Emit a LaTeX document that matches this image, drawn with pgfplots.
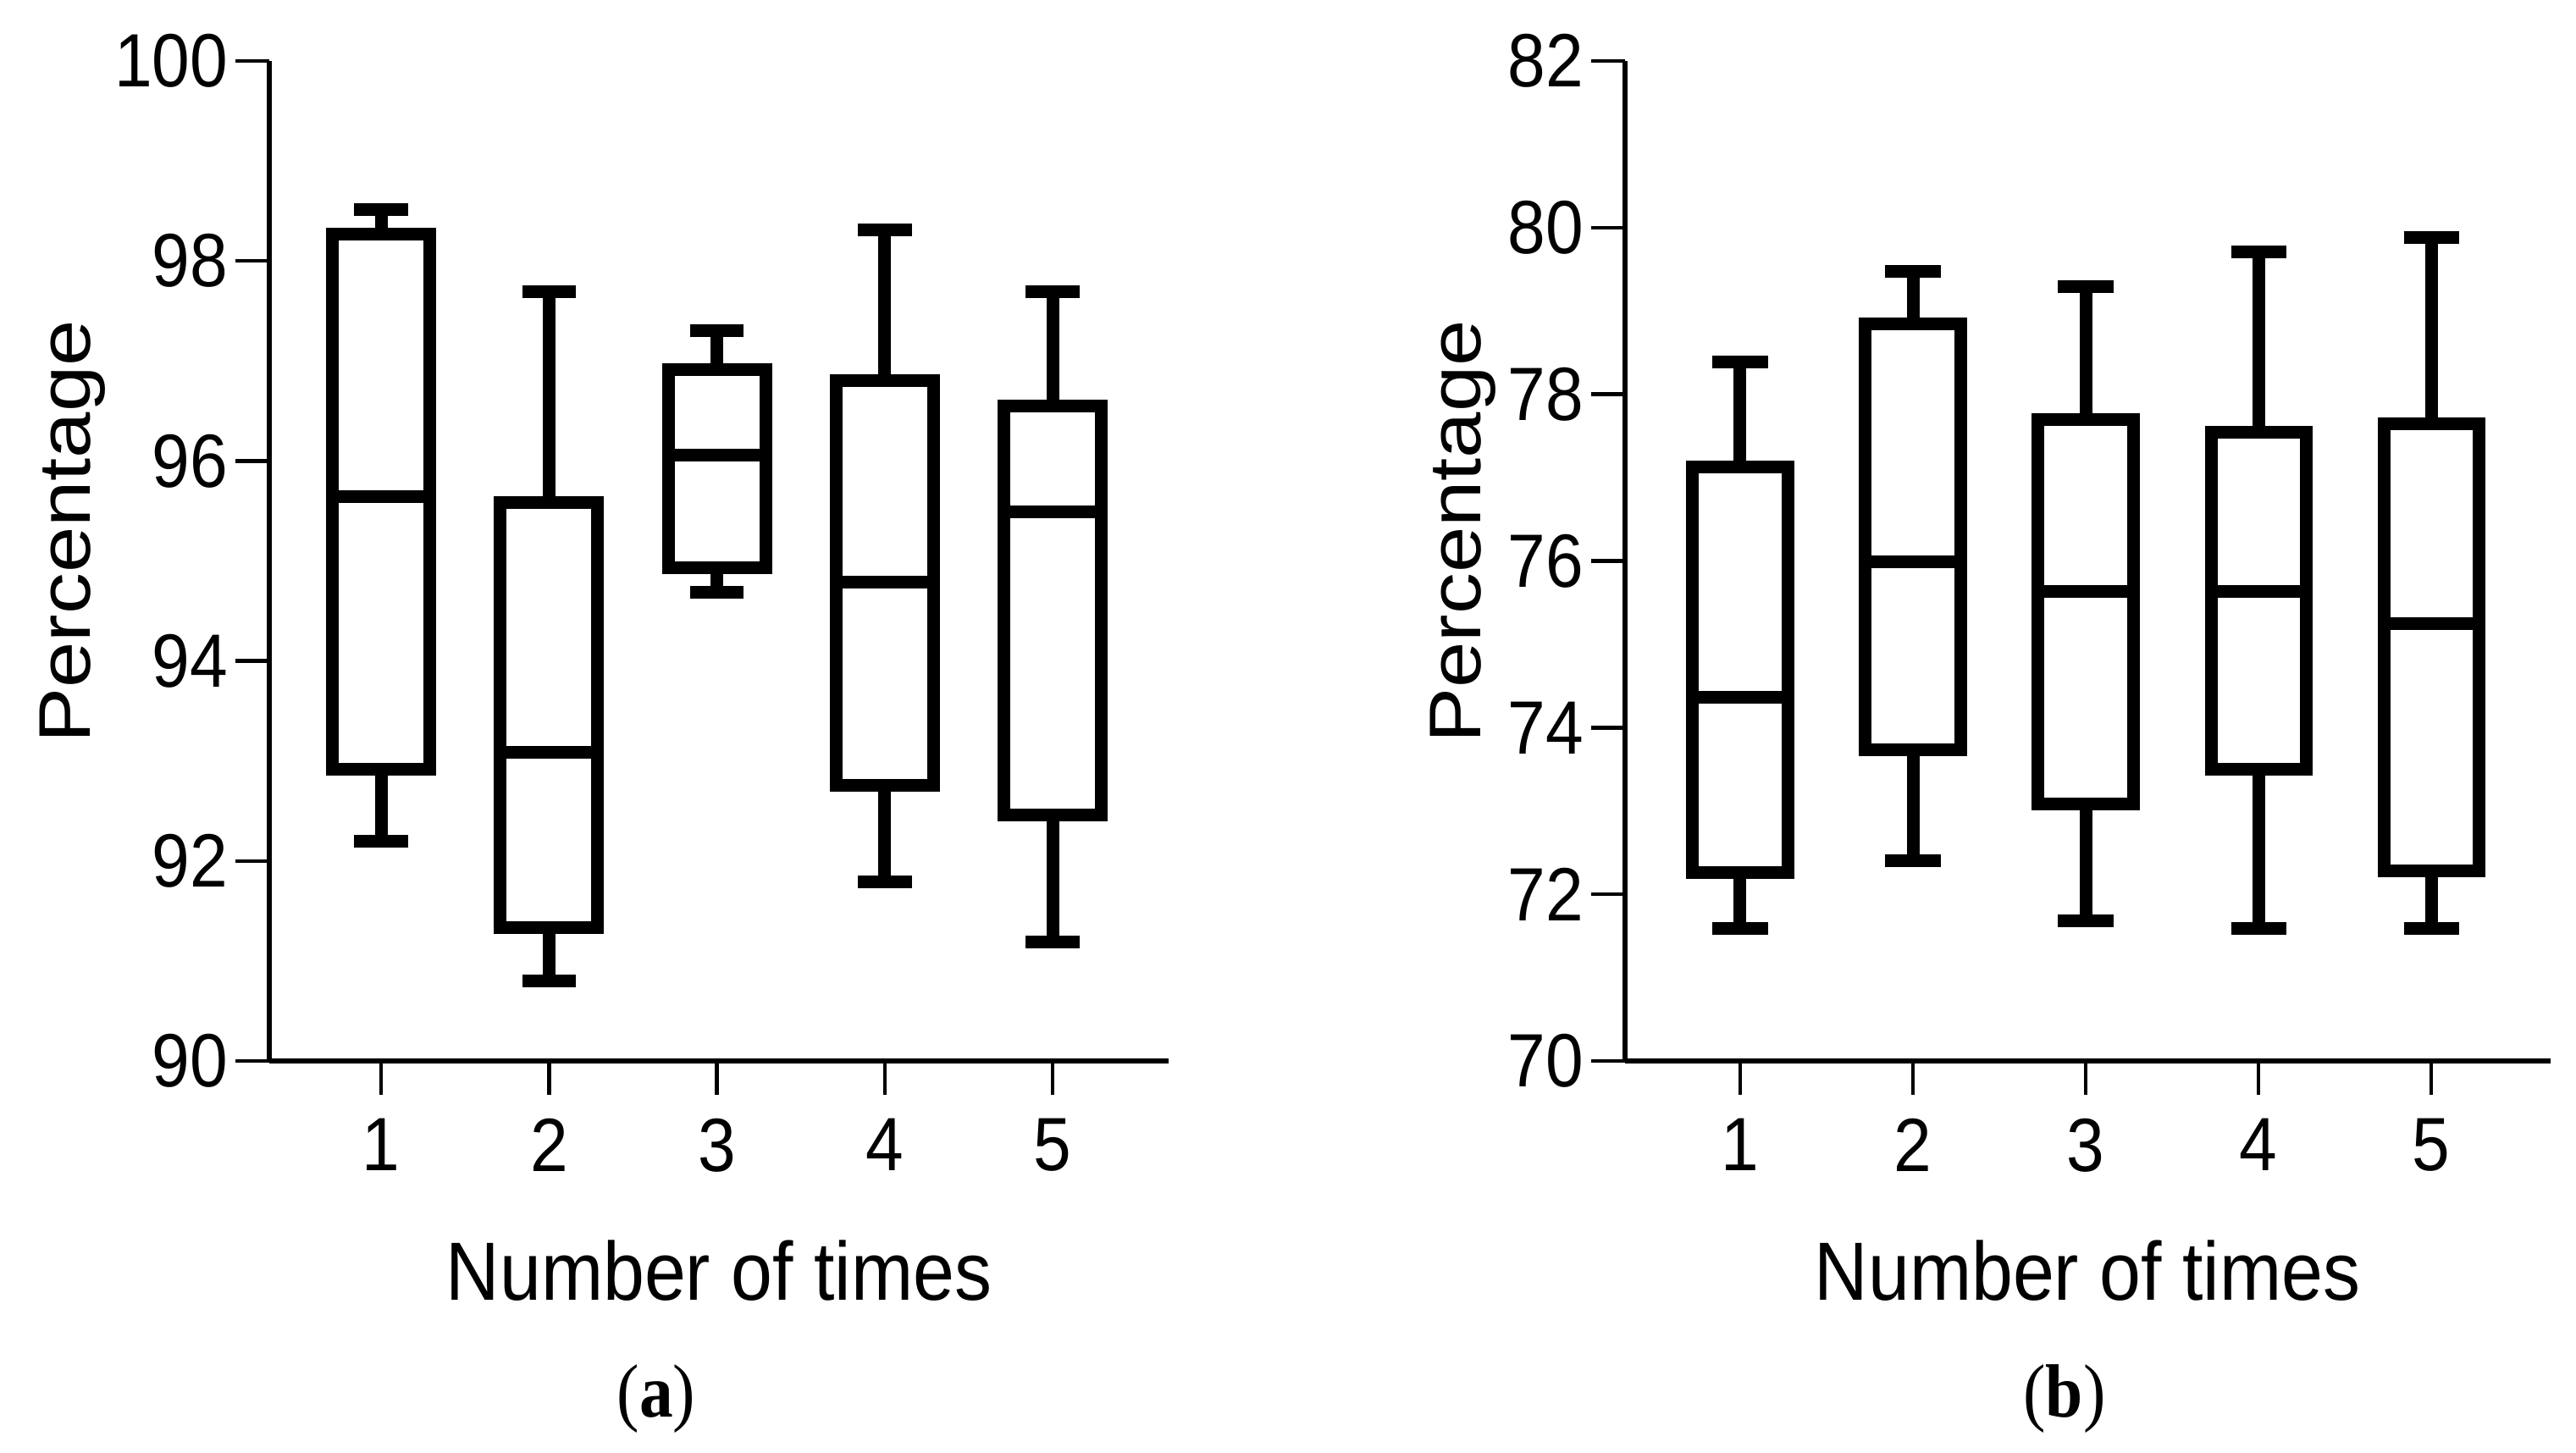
\documentclass[border=0pt]{standalone}
\usepackage{fontspec}
\setmainfont{Liberation Sans}[FakeStretch=0.9]
\newfontfamily\ylabfont{Liberation Sans}[FakeStretch=1.13]
\newfontfamily\capfont{Liberation Serif}[FakeStretch=0.89]
\usepackage{pgfplots}
\pgfplotsset{compat=1.18}
\usepgfplotslibrary{statistics}

\pgfplotsset{
  gp/.style={
    scale only axis, height=295.25pt, anchor=south west,
    axis lines=left, axis line style={-, line width=1.4pt, black},
    tick align=outside, major tick length=10pt,
    tick style={black, line width=1.1pt},
    xtick={1,2,3,4,5}, xmin=0.334, xmax=5.69,
    minor tick num=0,
    /pgf/number format/assume math mode=true,
    tick label style={font=\fontsize{22.3}{26}\selectfont, inner sep=0pt},
    yticklabel style={anchor=east, xshift=-2pt},
    xticklabel style={anchor=north, yshift=-6.75pt},
    clip=false,
    boxplot/draw direction=y,
  },
  bx/.style={black, line width=3.75pt, solid},
}

\begin{document}
\begin{tikzpicture}
\useasboundingbox (0,0) rectangle (760.5pt,428.75pt);

% ---------- panel (a) ----------
\begin{axis}[gp, at={(79.5pt,115.5pt)}, width=265.5pt,
  ymin=90, ymax=100, ytick={90,92,94,96,98,100},
  boxplot/box extend=0.58, boxplot/whisker extend=0.32]
\addplot[bx, boxplot prepared={draw position=1, lower whisker=92.20, lower quartile=92.92, median=95.64, upper quartile=98.27, upper whisker=98.51}] coordinates {};
\addplot[bx, boxplot prepared={draw position=2, lower whisker=90.80, lower quartile=91.33, median=93.09, upper quartile=95.58, upper whisker=97.69}] coordinates {};
\addplot[bx, boxplot prepared={draw position=3, lower whisker=94.69, lower quartile=94.93, median=96.06, upper quartile=96.91, upper whisker=97.30}] coordinates {};
\addplot[bx, boxplot prepared={draw position=4, lower whisker=91.79, lower quartile=92.76, median=94.79, upper quartile=96.80, upper whisker=98.31}] coordinates {};
\addplot[bx, boxplot prepared={draw position=5, lower whisker=91.19, lower quartile=92.46, median=95.49, upper quartile=96.55, upper whisker=97.69}] coordinates {};
\end{axis}

% ---------- panel (b) ----------
\begin{axis}[gp, at={(479.75pt,115.5pt)}, width=273.25pt,
  ymin=70, ymax=82, ytick={70,72,74,76,78,80,82},
  boxplot/box extend=0.55, boxplot/whisker extend=0.32]
\addplot[bx, boxplot prepared={draw position=1, lower whisker=71.59, lower quartile=72.26, median=74.36, upper quartile=77.13, upper whisker=78.39}] coordinates {};
\addplot[bx, boxplot prepared={draw position=2, lower whisker=72.40, lower quartile=73.73, median=75.99, upper quartile=78.84, upper whisker=79.48}] coordinates {};
\addplot[bx, boxplot prepared={draw position=3, lower whisker=71.68, lower quartile=73.08, median=75.63, upper quartile=77.70, upper whisker=79.29}] coordinates {};
\addplot[bx, boxplot prepared={draw position=4, lower whisker=71.59, lower quartile=73.50, median=75.63, upper quartile=77.54, upper whisker=79.71}] coordinates {};
\addplot[bx, boxplot prepared={draw position=5, lower whisker=71.59, lower quartile=72.28, median=75.25, upper quartile=77.65, upper whisker=79.88}] coordinates {};
\end{axis}

% ---------- labels ----------
\node[anchor=base, font=\fontsize{24.4}{28}\selectfont] at (212.25pt,45pt) {Number of times};
\node[anchor=base, font=\fontsize{24.4}{28}\selectfont] at (616.25pt,45pt) {Number of times};
\node[anchor=base, rotate=90, font=\ylabfont\fontsize{21.6}{26}\selectfont] at (26.75pt,271.75pt) {Percentage};
\node[anchor=base, rotate=90, font=\ylabfont\fontsize{21.6}{26}\selectfont] at (437pt,271.75pt) {Percentage};
\node[anchor=base, font=\capfont\fontsize{22.3}{26}\selectfont] at (193.75pt,10.5pt) {(\textbf{a})};
\node[anchor=base, font=\capfont\fontsize{22.3}{26}\selectfont] at (609.5pt,10.5pt) {(\textbf{b})};
\end{tikzpicture}
\end{document}
